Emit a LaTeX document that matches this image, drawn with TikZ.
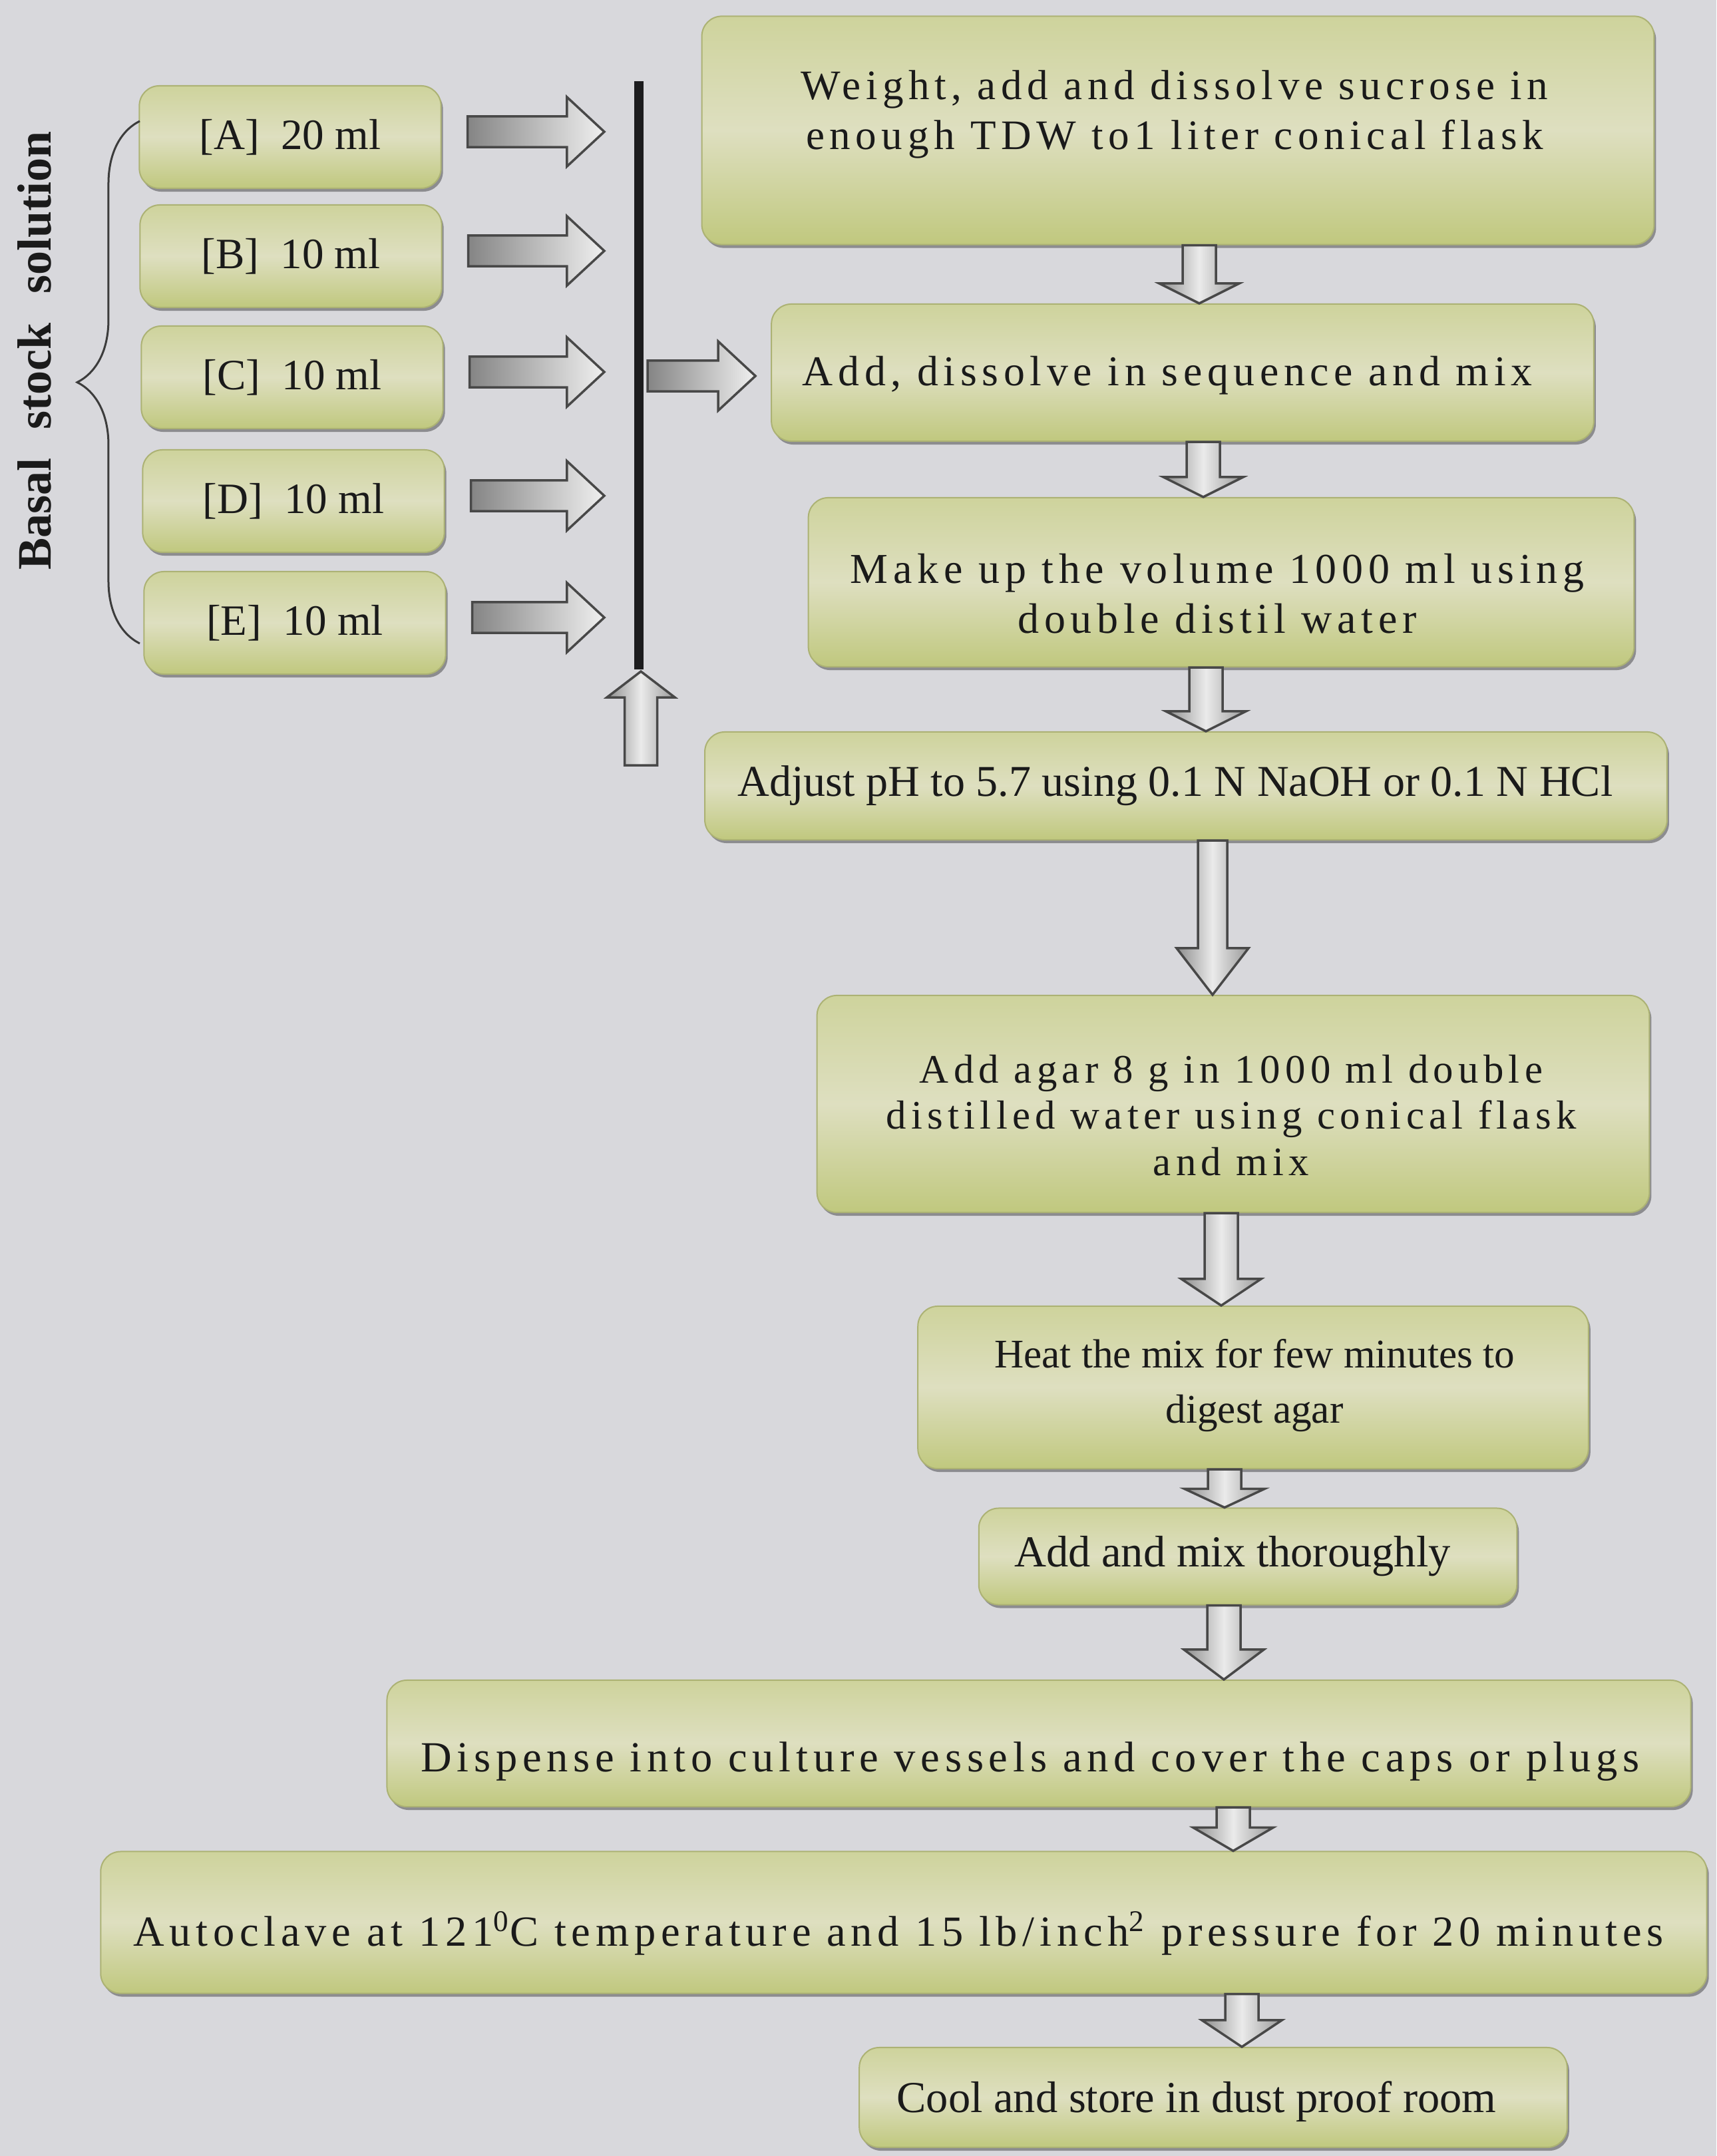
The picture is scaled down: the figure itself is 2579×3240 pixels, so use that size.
\documentclass[tikz,border=0pt]{standalone}
\usepackage{fontspec}
\setmainfont{Liberation Serif}
\newfontfamily\spacedfont[LetterSpace=12]{Liberation Serif}
\usetikzlibrary{shadows,calc,decorations.pathreplacing}
\definecolor{pagebg}{RGB}{216,216,220}
\definecolor{boxtop}{RGB}{206,211,156}
\definecolor{boxmid}{RGB}{222,223,192}
\definecolor{boxbot}{RGB}{192,200,126}
\definecolor{boxedge}{RGB}{172,178,116}
\definecolor{arrowedge}{RGB}{72,72,72}
\definecolor{inkc}{RGB}{26,26,26}
\newcommand\varrow[6]{%
  \path[blockv] let \p1=(#2.south), \p2=(#3.north), \p3=(#1,0) in
  ({\x3-#6cm},\y1) -- ({\x3+#6cm},\y1) -- ({\x3+#6cm},{\y2+#4cm}) --
  ({\x3+#5cm},{\y2+#4cm}) -- (\x3,\y2) -- ({\x3-#5cm},{\y2+#4cm}) --
  ({\x3-#6cm},{\y2+#4cm}) -- cycle;}
\newcommand\harrow[2]{%
  \path[blockh] let \p1=(#1), \p2=(#2) in
  (\x1,{\y1+0.23cm}) -- ({\x2-0.56cm},{\y1+0.23cm}) -- ({\x2-0.56cm},{\y1+0.52cm}) --
  (\x2,\y1) -- ({\x2-0.56cm},{\y1-0.52cm}) -- ({\x2-0.56cm},{\y1-0.23cm}) --
  (\x1,{\y1-0.23cm}) -- cycle;}
\newcommand\uparrowblock[2]{%
  \path[blockv] let \p1=(#1), \p2=(#2) in
  ({\x1-0.245cm},\y1) -- ({\x1+0.245cm},\y1) -- ({\x1+0.245cm},{\y2-0.39cm}) --
  ({\x1+0.51cm},{\y2-0.39cm}) -- (\x1,\y2) -- ({\x1-0.51cm},{\y2-0.39cm}) --
  ({\x1-0.245cm},{\y2-0.39cm}) -- cycle;}
% box with its text placed separately: name, centre, width, height, text centre, font, text
\newcommand\flowbox[7]{%
  \node[box, minimum width=#3, minimum height=#4] (#1) at (#2) {};
  \node[text=inkc, align=center, inner sep=0pt, font=#6] (#1-text) at (#5) {#7};}
\begin{document}
\begin{tikzpicture}[x=0.01cm,y=-0.01cm,
  box/.style={rounded corners=0.3cm, top color=boxtop, bottom color=boxbot,
    middle color=boxmid, draw=boxedge, line width=0.02cm,
    drop shadow={shadow xshift=0.03cm,shadow yshift=-0.05cm,opacity=0.35,fill=black},
    text=inkc, align=center, inner sep=0pt},
  plain/.style={font=\fontsize{#1}{24}\selectfont},
  blockv/.style={draw=arrowedge, line width=0.035cm, line join=miter,
    left color=black!45, right color=black!40, middle color=black!8},
  blockh/.style={draw=arrowedge, line width=0.035cm, line join=miter,
    left color=black!48, right color=black!6},
  bar/.style={draw={rgb,255:red,28;green,28;blue,30}, line width=0.14cm},
  bracestyle/.style={decorate, decoration={brace, amplitude=0.94cm},
    draw={rgb,255:red,60;green,60;blue,60}, line width=0.03cm}]
\fill[pagebg] (0,0) rectangle (2579,3240);
\useasboundingbox (0,0) rectangle (2579,3240);

% stock boxes
\node[box, minimum width=4.53cm, minimum height=1.54cm, plain=18.5] (A) at (436,206) {[A]\ \ 20 ml};
\node[box, minimum width=4.53cm, minimum height=1.54cm, plain=18.5] (B) at (437,385) {[B]\ \ 10 ml};
\node[box, minimum width=4.53cm, minimum height=1.54cm, plain=18.5] (C) at (439,567) {[C]\ \ 10 ml};
\node[box, minimum width=4.53cm, minimum height=1.54cm, plain=18.5] (D) at (441,753) {[D]\ \ 10 ml};
\node[box, minimum width=4.53cm, minimum height=1.54cm, plain=18.5] (E) at (443,936) {[E]\ \ 10 ml};

% label and brace
\node[rotate=90, text=inkc, font=\bfseries\fontsize{20.5}{24}\selectfont] (basal) at (52,527)
  {Basal\hspace{0.6em}stock\hspace{0.6em}solution};
\coordinate (braceTop) at (210,182);
\coordinate (braceBot) at (210,967);
\draw[bracestyle] (braceBot) -- (braceTop);

% main flow boxes
\flowbox{top}{1770,196}{14.30cm}{3.43cm}{1765,172}{\spacedfont\fontsize{17.95}{21.5}\selectfont}
  {Weight, add and dissolve sucrose in\\enough TDW to1 liter conical flask}
\flowbox{add}{1777,560}{12.35cm}{2.06cm}{1754,564}{\spacedfont\fontsize{18.15}{21.5}\selectfont}
  {Add, dissolve in sequence and mix}
\flowbox{makeup}{1835,875}{12.40cm}{2.54cm}{1829,892}{\spacedfont\fontsize{18.2}{21.5}\selectfont}
  {Make up the volume 1000 ml using\\double distil water}
\flowbox{adjust}{1782,1181}{14.45cm}{1.62cm}{1766,1181}{\fontsize{18.8}{22}\selectfont}
  {Adjust pH to 5.7 using 0.1 N NaOH or 0.1 N HCl}
\flowbox{agar}{1853,1659}{12.50cm}{3.26cm}{1850,1676}{\spacedfont\fontsize{17.3}{19.7}\selectfont}
  {Add agar 8 g in 1000 ml double\\distilled water using conical flask\\and mix}
\flowbox{heat}{1883,2085}{10.07cm}{2.44cm}{1885,2082}{\fontsize{17.4}{23.6}\selectfont}
  {Heat the mix for few minutes to\\digest agar}
\flowbox{addmix}{1875,2339}{8.08cm}{1.45cm}{1852,2339}{\fontsize{18.9}{22}\selectfont}
  {Add and mix thoroughly}
\flowbox{dispense}{1561,2620}{19.58cm}{1.90cm}{1548,2647}{\spacedfont\fontsize{18.35}{21}\selectfont}
  {Dispense into culture vessels and cover the caps or plugs}
\flowbox{autoclave}{1358,2889}{24.12cm}{2.13cm}{1350,2905}{\spacedfont\fontsize{18.35}{21}\selectfont}
  {Autoclave at 121\textsuperscript{0}C temperature and 15 lb/inch\textsuperscript{2} pressure for 20 minutes}
\flowbox{cool}{1823,3152}{10.63cm}{1.50cm}{1798,3158}{\fontsize{18.9}{22}\selectfont}
  {Cool and store in dust proof room}

% vertical bar
\coordinate (bartop) at (960,122);
\coordinate (barbot) at (960,1006);
\draw[bar] (bartop) -- (barbot);
\coordinate (bartip) at (908,0);

% arrows from stock boxes into the bar
\coordinate (sA) at ($(A.east)+(39,-8)$);
\coordinate (tA) at (sA -| bartip);
\harrow{sA}{tA}
\coordinate (sB) at ($(B.east)+(39,-8)$);
\coordinate (tB) at (sB -| bartip);
\harrow{sB}{tB}
\coordinate (sC) at ($(C.east)+(39,-8)$);
\coordinate (tC) at (sC -| bartip);
\harrow{sC}{tC}
\coordinate (sD) at ($(D.east)+(39,-8)$);
\coordinate (tD) at (sD -| bartip);
\harrow{sD}{tD}
\coordinate (sE) at ($(E.east)+(39,-8)$);
\coordinate (tE) at (sE -| bartip);
\harrow{sE}{tE}
% arrow from bar to the second box
\coordinate (sBar) at ($(bartop |- add.west)+(13,5)$);
\coordinate (tBar) at ($(add.west)+(-23,5)$);
\harrow{sBar}{tBar}
% up arrow below the bar
\coordinate (upbase) at (963,1150);
\coordinate (uptip) at (963,1009);
\uparrowblock{upbase}{uptip}

% down arrows
\varrow{1802}{top}{add}{0.30}{0.60}{0.25}
\varrow{1808}{add}{makeup}{0.30}{0.60}{0.25}
\varrow{1812}{makeup}{adjust}{0.30}{0.60}{0.25}
\varrow{1822}{adjust}{agar}{0.70}{0.54}{0.22}
\varrow{1835}{agar}{heat}{0.40}{0.60}{0.25}
\varrow{1840}{heat}{addmix}{0.28}{0.60}{0.25}
\varrow{1839}{addmix}{dispense}{0.45}{0.60}{0.25}
\varrow{1853}{dispense}{autoclave}{0.35}{0.60}{0.25}
\varrow{1866}{autoclave}{cool}{0.40}{0.60}{0.25}
\end{tikzpicture}
\end{document}
